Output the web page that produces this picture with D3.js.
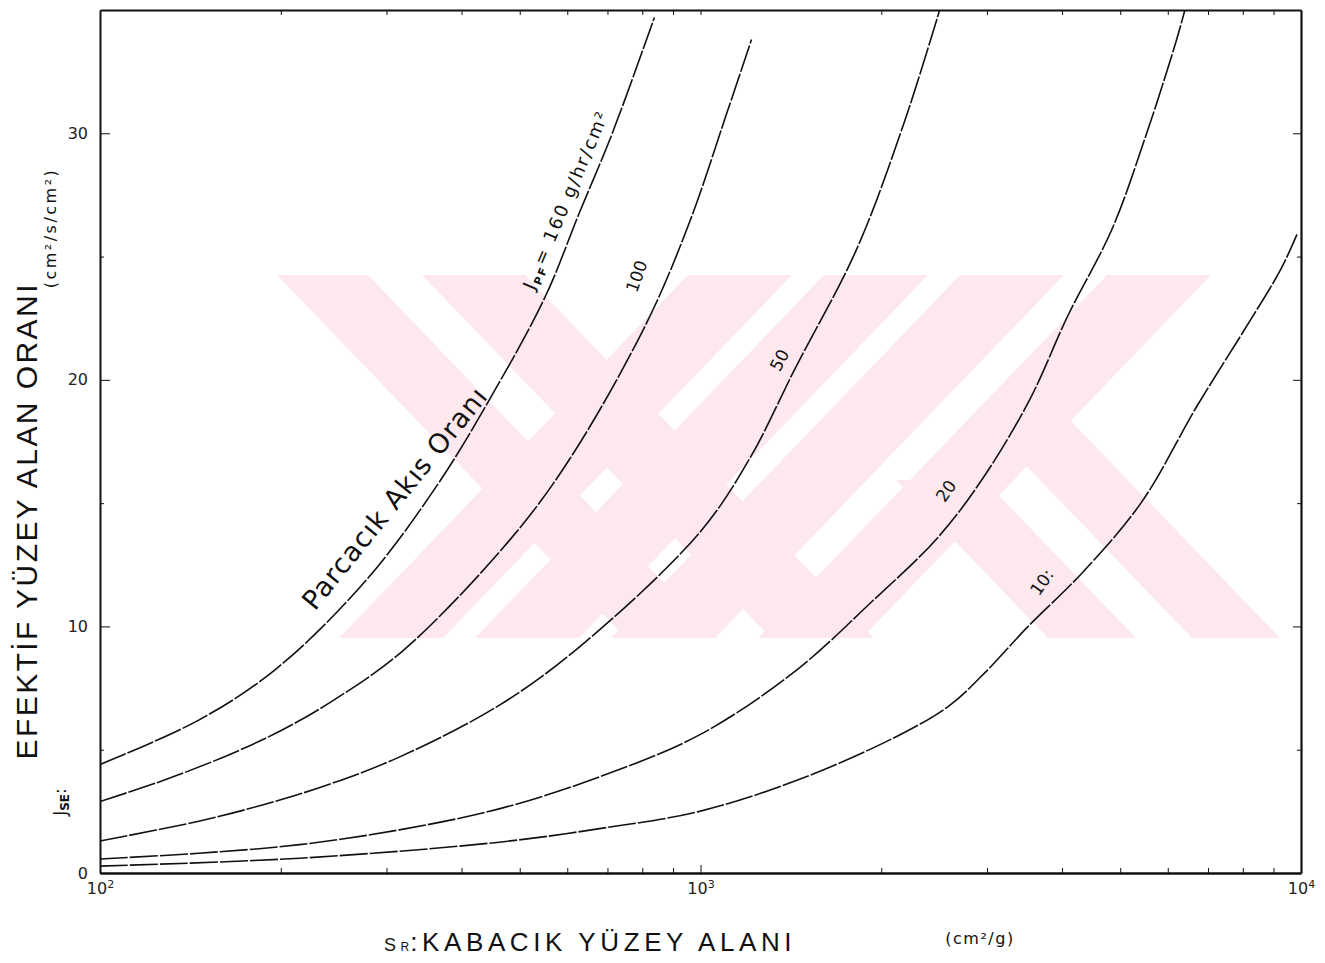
<!DOCTYPE html>
<meta charset="utf-8">
<style>
body { margin: 0; background: #fff; }
svg { display: block; font-family: "Liberation Sans", "DejaVu Sans", sans-serif; }
.axis path, .axis line { stroke: #111; }
.axis text { font-family: "DejaVu Sans", sans-serif; font-size: 16px; fill: #222; }
.curve { fill: none; stroke: #111; stroke-width: 1.6px; stroke-dasharray: 28, 2; }
.clabel { font-family: "DejaVu Sans", sans-serif; fill: #111; }
</style>
<script src="https://d3js.org/d3.v7.min.js"></script>
<body>
<svg width="1325" height="963"></svg>
<script>

// S_R (cm2/g) and J_SE
var s160 = [100, 146, 197, 278, 366, 455, 552, 629, 713, 838];
var j160 = [4.4, 6.2, 8.3, 11.9, 15.8, 19.6, 23.4, 26.8, 30.0, 34.7];

var s100 = [100, 129, 166, 201, 241, 319, 481, 606, 813, 959, 1109, 1216];
var j100 = [2.9, 3.8, 4.85, 5.8, 6.9, 9.0, 13.5, 16.8, 22.3, 26.4, 30.9, 33.8];

var s50 = [100, 146, 189, 241, 315, 462, 631, 996, 1207, 1440, 1820, 2188, 2502];
var j50 = [1.3, 2.1, 2.8, 3.6, 4.7, 6.8, 9.2, 13.8, 16.8, 20.5, 25.3, 30.5, 35.0];

var s20 = [100, 146, 215, 315, 462, 679, 996, 1440, 1928, 2483, 2951, 3534, 4090, 4842, 5516, 6190, 6407];
var j20 = [0.57, 0.8, 1.15, 1.75, 2.6, 3.9, 5.6, 8.2, 11.0, 13.6, 16.0, 19.2, 22.6, 26.1, 29.9, 33.7, 35.0];

var s10 = [100, 215, 462, 679, 996, 1462, 2146, 2600, 2997, 3480, 4331, 5412, 6735, 8035, 9262, 9847];
var j10 = [0.28, 0.6, 1.25, 1.8, 2.5, 3.8, 5.6, 6.8, 8.2, 9.9, 12.2, 15.0, 19.0, 22.0, 24.5, 25.9];

var yTicks = [0, 10, 20, 30];
var yMinor = [5, 15, 25];
var xMajor = [100, 1000, 10000];
var xMajorExp = ["2", "3", "4"];
var xMinor = [200, 300, 400, 500, 600, 700, 800, 900, 2000, 3000, 4000, 5000, 6000, 7000, 8000, 9000];

var svg = d3.select("svg"),
    mLeft = 100, mRight = 1301, mTop = 10, mBottom = 873;

var x = d3.scaleLog().domain([100, 10000]).range([mLeft, mRight]);
var y = d3.scaleLinear().domain([0, 35]).range([mBottom, mTop]);

// watermark (pale pink stripes behind the plot)
var wm = svg.append("g").attr("fill", "#fde9ed");
var wTop = 275, wBot = 638, sh = 349;
function poly(pts) { wm.append("polygon").attr("points", pts.map(function(p) { return p.join(","); }).join(" ")); }
[688, 824, 960, 1107].forEach(function(x0) {
  poly([[x0, wTop], [x0 + 104, wTop], [x0 + 104 - sh, wBot], [x0 - sh, wBot]]);
});
[[277, 91], [422, 103]].forEach(function(b) {
  poly([[b[0], wTop], [b[0] + b[1], wTop], [b[0] + b[1] + sh, wBot], [b[0] + sh, wBot]]);
});
poly([[982, 420], [1070, 420], [1280, wBot], [1192, wBot]]);
poly([[896, 480], [984, 480], [1136, wBot], [1048, wBot]]);

// axes
svg.append("g").attr("class", "axis").attr("transform", "translate(" + mLeft + ",0)")
    .call(d3.axisLeft(y).tickValues(yTicks).tickSize(-10).tickSizeOuter(0).tickPadding(12).tickFormat(d3.format("d")))
    .call(function(g) { g.select(".domain").attr("stroke-width", 2); });
svg.append("g").attr("class", "axis").attr("transform", "translate(" + mLeft + ",0)")
    .call(d3.axisLeft(y).tickValues(yMinor).tickSize(-4).tickSizeOuter(0).tickFormat(""))
    .call(function(g) { g.select(".domain").remove(); });

svg.append("g").attr("class", "axis").attr("transform", "translate(" + mRight + ",0)")
    .call(d3.axisRight(y).tickValues(yTicks.slice(1)).tickSize(-8).tickSizeOuter(0).tickFormat(""))
    .call(function(g) { g.select(".domain").attr("stroke-width", 2.2); });
svg.append("g").attr("class", "axis").attr("transform", "translate(" + mRight + ",0)")
    .call(d3.axisRight(y).tickValues(yMinor).tickSize(-4).tickSizeOuter(0).tickFormat(""))
    .call(function(g) { g.select(".domain").remove(); });

svg.append("g").attr("class", "axis").attr("transform", "translate(0," + mBottom + ")")
    .call(d3.axisBottom(x).tickValues(xMajor).tickSize(-8).tickSizeOuter(0).tickPadding(10).tickFormat(function() { return "10"; }))
    .call(function(g) {
      g.select(".domain").attr("stroke-width", 2.6);
      g.selectAll(".tick text").append("tspan").attr("font-size", 11).attr("dy", -6)
        .text(function(d, i) { return xMajorExp[i]; });
    });
svg.append("g").attr("class", "axis").attr("transform", "translate(0," + mBottom + ")")
    .call(d3.axisBottom(x).tickValues(xMinor).tickSize(-5).tickSizeOuter(0).tickFormat(""))
    .call(function(g) { g.select(".domain").remove(); });

svg.append("g").attr("class", "axis").attr("transform", "translate(0," + mTop + ")")
    .call(d3.axisTop(x).tickValues(xMinor.concat([1000])).tickSize(-5).tickSizeOuter(0).tickFormat(""))
    .call(function(g) { g.select(".domain").attr("stroke-width", 2); });

// curves
svg.append("clipPath").attr("id", "plot")
  .append("rect").attr("x", mLeft).attr("y", mTop).attr("width", mRight - mLeft).attr("height", mBottom - mTop);

var line = d3.line()
    .x(function(d) { return x(d[0]); })
    .y(function(d) { return y(d[1]); })
    .curve(d3.curveCatmullRom.alpha(0.5));

var series = [[s160, j160], [s100, j100], [s50, j50], [s20, j20], [s10, j10]];
svg.append("g").attr("clip-path", "url(#plot)")
  .selectAll("path").data(series).enter().append("path")
    .attr("class", "curve")
    .attr("d", function(d) { return line(d[0].map(function(s, i) { return [s, d[1][i]]; })); });

// curve labels (positions in data units)
function label(s, j, angle, size) {
  return svg.append("text").attr("class", "clabel").attr("font-size", size)
    .attr("transform", "translate(" + x(s) + "," + y(j) + ") rotate(" + angle + ")");
}
var t = label(528, 23.6, -67, 18).attr("letter-spacing", 2);
t.append("tspan").text("J");
t.append("tspan").attr("font-size", 11).attr("font-weight", "bold").attr("dy", 4).text("PF");
t.append("tspan").attr("dy", -4).text("= 160 g/hr/cm\u00b2");
label(228, 10.6, -51, 27).attr("font-family", "Liberation Sans, sans-serif").attr("letter-spacing", 1)
  .text("Parcacık Akıs Oranı");
label(783, 23.5, -70, 17).text("100");
label(1355, 20.3, -62, 17).text("50");
label(2551, 15.0, -55, 17).text("20");
label(3661, 11.2, -55, 17).text("10:");

// axis titles
svg.append("text").attr("transform", "translate(37,522) rotate(-90)")
  .attr("text-anchor", "middle").attr("font-size", 30).attr("fill", "#111")
  .attr("textLength", 475).attr("lengthAdjust", "spacing")
  .text("EFEKTİF YÜZEY ALAN ORANI");
svg.append("text").attr("transform", "translate(56,228) rotate(-90)")
  .attr("text-anchor", "middle").attr("font-size", 16).attr("fill", "#111")
  .attr("font-family", "DejaVu Sans, sans-serif")
  .attr("letter-spacing", 2.5)
  .text("(cm\u00b2/s/cm\u00b2)");
var js = svg.append("text").attr("transform", "translate(66,802) rotate(-90)")
  .attr("text-anchor", "middle").attr("font-size", 17).attr("fill", "#111")
  .attr("font-family", "DejaVu Sans, sans-serif");
js.append("tspan").text("J");
js.append("tspan").attr("font-size", 12).attr("dy", 3).attr("font-weight", "bold").text("SE");
js.append("tspan").attr("dy", -3).text(":");

var xt = svg.append("text").attr("x", 384).attr("y", 951).attr("font-size", 26).attr("fill", "#111")
  .attr("letter-spacing", 4.6);
xt.append("tspan").attr("font-size", 18).text("S");
xt.append("tspan").attr("font-size", 12).attr("letter-spacing", 1).text("R");
xt.append("tspan").text(":KABACIK  YÜZEY ALANI");
svg.append("text").attr("x", 980).attr("y", 944).attr("text-anchor", "middle")
  .attr("font-size", 16).attr("fill", "#111").attr("font-family", "DejaVu Sans, sans-serif")
  .attr("letter-spacing", 1.5)
  .text("(cm\u00b2/g)");

</script>
</body>
